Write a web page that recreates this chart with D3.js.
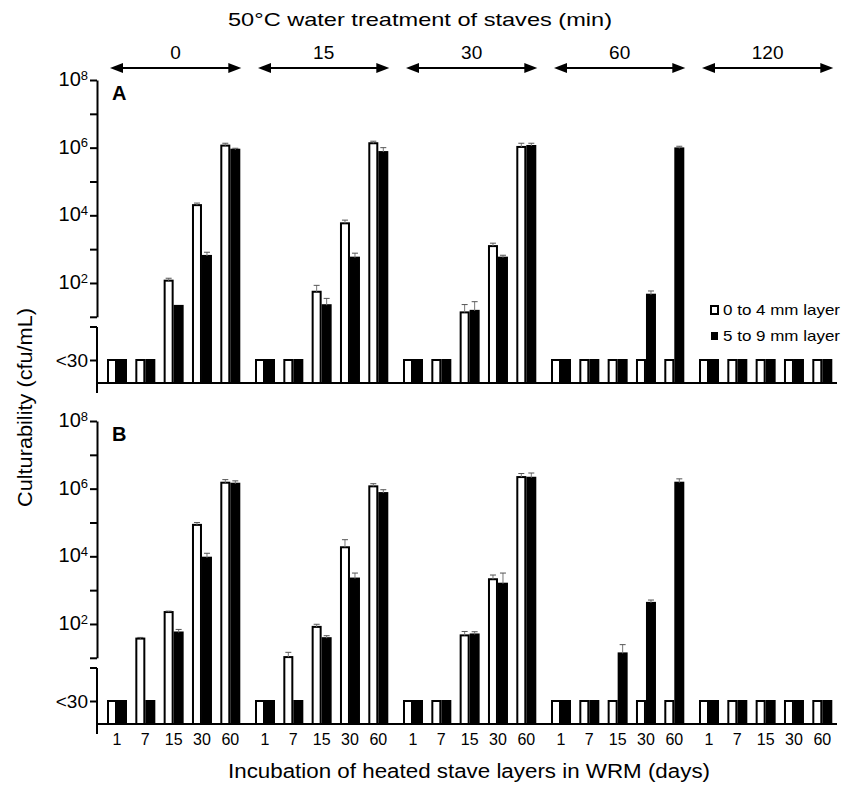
<!DOCTYPE html>
<html>
<head>
<meta charset="utf-8">
<script src="https://cdn.jsdelivr.net/npm/d3@7"></script>
<style>
  body { margin: 0; background: #fff; }
  text { font-family: "Liberation Sans", Arial, sans-serif; fill: #000; }
</style>
</head>
<body>
<div id="chart"></div>
<script>
// water treatment (min) and incubation (days)
const treatments = ["0", "15", "30", "60", "120"];
const days = ["1", "7", "15", "30", "60"];
const LT30 = 0; // below detection, drawn at the "<30" level

// panel A, 0 to 4 mm layer (white) / 5 to 9 mm layer (black), rows = treatment
const aOuter = [
  [LT30, LT30, 117, 2.0e4, 1.15e6],
  [LT30, LT30, 55, 5.8e3, 1.35e6],
  [LT30, LT30, 13.5, 1.23e3, 1.05e6],
  [LT30, LT30, LT30, LT30, LT30],
  [LT30, LT30, LT30, LT30, LT30]
];
const aOuterErr = [
  [0, 0, 138, 2.3e4, 1.35e6],
  [0, 0, 85, 7.2e3, 1.55e6],
  [0, 0, 23, 1.5e3, 1.35e6],
  [0, 0, 0, 0, 0],
  [0, 0, 0, 0, 0]
];
const aInner = [
  [LT30, LT30, 21, 630, 8.7e5],
  [LT30, LT30, 22, 560, 7.4e5],
  [LT30, LT30, 15, 560, 1.12e6],
  [LT30, LT30, LT30, 45, 9.5e5],
  [LT30, LT30, LT30, LT30, LT30]
];
const aInnerErr = [
  [0, 0, 0, 810, 9.6e5],
  [0, 0, 35, 760, 1.0e6],
  [0, 0, 28, 660, 1.35e6],
  [0, 0, 0, 58, 1.1e6],
  [0, 0, 0, 0, 0]
];

// panel B
const bOuter = [
  [LT30, 37, 225, 8.5e4, 1.5e6],
  [LT30, 10.5, 82, 1.85e4, 1.17e6],
  [LT30, LT30, 46, 2.1e3, 2.2e6],
  [LT30, LT30, LT30, LT30, LT30],
  [LT30, LT30, LT30, LT30, LT30]
];
const bOuterErr = [
  [0, 40, 240, 1.0e5, 1.85e6],
  [0, 14.5, 98, 3.1e4, 1.4e6],
  [0, 0, 60, 2.8e3, 2.8e6],
  [0, 0, 0, 0, 0],
  [0, 0, 0, 0, 0]
];
const bInner = [
  [LT30, LT30, 56, 9.1e3, 1.4e6],
  [LT30, LT30, 38, 2.2e3, 7.4e5],
  [LT30, LT30, 49, 1.55e3, 2.1e6],
  [LT30, LT30, 13.5, 420, 1.5e6],
  [LT30, LT30, LT30, LT30, LT30]
];
const bInnerErr = [
  [0, 0, 69, 1.23e4, 1.7e6],
  [0, 0, 45, 3.2e3, 9.3e5],
  [0, 0, 59, 3.2e3, 2.9e6],
  [0, 0, 24.5, 510, 1.95e6],
  [0, 0, 0, 0, 0]
];

const yTicks = [1e1, 1e2, 1e3, 1e4, 1e5, 1e6, 1e7, 1e8];
const legendLabels = ["0 to 4 mm layer", "5 to 9 mm layer"];

const width = 842, height = 787;
const axisX = 97;

let svg = d3.select("#chart")
  .append("svg")
  .attr("width", width)
  .attr("height", height);

let x0 = d3.scaleBand()
  .domain(treatments)
  .range([107, 832.3])
  .paddingInner(0.0993);
let x1 = d3.scaleBand()
  .domain(days)
  .range([0, x0.bandwidth()])
  .paddingInner(0.294);
let bw = x1.bandwidth() / 2;

// titles (text in the original is a bit wider than Liberation Sans)
svg.append("text")
  .attr("x", 228).attr("y", 26)
  .attr("font-size", "19px")
  .attr("textLength", 384).attr("lengthAdjust", "spacingAndGlyphs")
  .text("50°C water treatment of staves (min)");

svg.append("text")
  .attr("x", 228).attr("y", 778)
  .attr("font-size", "20px")
  .attr("textLength", 482).attr("lengthAdjust", "spacingAndGlyphs")
  .text("Incubation of heated stave layers in WRM (days)");

svg.append("text")
  .attr("transform", "translate(32,507) rotate(-90)")
  .attr("font-size", "20px")
  .attr("textLength", 199).attr("lengthAdjust", "spacingAndGlyphs")
  .text("Culturability (cfu/mL)");

// treatment arrows
let arrows = svg.append("g");
treatments.forEach(t => {
  let xa = x0(t) + 3, xb = x0(t) + x0.bandwidth() + 1, ya = 68;
  arrows.append("line")
    .attr("x1", xa + 6).attr("x2", xb - 6)
    .attr("y1", ya).attr("y2", ya)
    .attr("stroke", "#000").attr("stroke-width", 2);
  arrows.append("path")
    .attr("d", `M${xa},${ya}L${xa + 13},${ya - 5}L${xa + 13},${ya + 5}Z`);
  arrows.append("path")
    .attr("d", `M${xb},${ya}L${xb - 13},${ya - 5}L${xb - 13},${ya + 5}Z`);
  arrows.append("text")
    .attr("x", (xa + xb) / 2).attr("y", 59)
    .attr("text-anchor", "middle")
    .attr("font-size", "19px")
    .text(t);
});

const panels = [
  {key: "A", top: 80, outer: aOuter, outerErr: aOuterErr, inner: aInner, innerErr: aInnerErr, ticks: false},
  {key: "B", top: 421, outer: bOuter, outerErr: bOuterErr, inner: bInner, innerErr: bInnerErr, ticks: true}
];

panels.forEach(p => {
  let g = svg.append("g");
  let top = p.top;
  let yLog = d3.scaleLog().domain([1e1, 1e8]).range([top + 236.8, top]);
  let yLow = d3.scalePoint().domain(["<30"]).range([top + 257, top + 303]).padding(0.5);
  let base = top + 303;
  let yv = v => v === LT30 ? yLow("<30") : yLog(v);

  // upper (log) axis
  let ax = g.append("g")
    .attr("transform", `translate(${axisX},0)`)
    .call(d3.axisLeft(yLog).tickValues(yTicks).tickSize(7).tickSizeOuter(0).tickFormat(""));
  ax.select(".domain").attr("stroke-width", 2);
  ax.selectAll(".tick line").attr("stroke-width", 2);
  ax.selectAll(".tick").filter(d => Math.round(Math.log10(d)) % 2 === 0)
    .append("text")
    .attr("x", -9).attr("dy", "0.28em")
    .attr("text-anchor", "end")
    .attr("font-size", "20px")
    .attr("fill", "#000")
    .text("10")
    .append("tspan")
    .attr("dy", "-0.5em")
    .attr("font-size", "13px")
    .text(d => Math.round(Math.log10(d)));

  // lower axis with "<30"
  let ax2 = g.append("g")
    .attr("transform", `translate(${axisX},0)`)
    .call(d3.axisLeft(yLow).tickSize(7).tickSizeOuter(0));
  ax2.select(".domain").remove();
  ax2.selectAll(".tick line").attr("stroke-width", 2);
  ax2.selectAll(".tick text").attr("font-size", "19px").attr("x", -9)
    .attr("font-family", "Liberation Sans, Arial, sans-serif");
  g.append("line")
    .attr("x1", axisX).attr("x2", axisX)
    .attr("y1", top + 247).attr("y2", top + 313)
    .attr("stroke", "#000").attr("stroke-width", 2);
  g.append("line")
    .attr("x1", axisX - 7).attr("x2", axisX)
    .attr("y1", top + 247).attr("y2", top + 247)
    .attr("stroke", "#000").attr("stroke-width", 2);

  // bars
  treatments.forEach((t, i) => {
    days.forEach((d, j) => {
      let bx = x0(t) + x1(d);
      let vo = p.outer[i][j], vi = p.inner[i][j];
      g.append("rect")
        .attr("x", bx + 1).attr("y", yv(vo))
        .attr("width", bw - 2).attr("height", base - yv(vo))
        .attr("fill", "#fff").attr("stroke", "#000").attr("stroke-width", 2);
      g.append("rect")
        .attr("x", bx + bw).attr("y", yv(vi) - 1)
        .attr("width", bw).attr("height", base - yv(vi) + 1)
        .attr("fill", "#000");
      [[vo, p.outerErr[i][j], bx + bw / 2], [vi, p.innerErr[i][j], bx + bw * 1.5]].forEach(e => {
        if (!e[1]) return;
        let ya = yv(e[0]), yb = yLog(e[1]);
        g.append("line")
          .attr("x1", e[2]).attr("x2", e[2]).attr("y1", ya).attr("y2", yb)
          .attr("stroke", "#777").attr("stroke-width", 1);
        g.append("line")
          .attr("x1", e[2] - 3).attr("x2", e[2] + 3).attr("y1", yb).attr("y2", yb)
          .attr("stroke", "#555").attr("stroke-width", 1);
      });
      if (p.ticks) {
        g.append("text")
          .attr("x", bx + bw).attr("y", base + 21)
          .attr("text-anchor", "middle")
          .attr("font-size", "16px")
          .text(d);
      }
    });
  });

  // baseline
  g.append("line")
    .attr("x1", axisX).attr("x2", 837)
    .attr("y1", base).attr("y2", base)
    .attr("stroke", "#000").attr("stroke-width", 2);

  g.append("text")
    .attr("x", 112).attr("y", top + 20)
    .attr("font-size", "20px").attr("font-weight", "bold")
    .text(p.key);
});

// legend
let legend = svg.append("g");
legendLabels.forEach((l, i) => {
  let ly = 310 + i * 26;
  legend.append("rect")
    .attr("x", 711).attr("y", ly - 4)
    .attr("width", 7).attr("height", 8)
    .attr("fill", i === 0 ? "#fff" : "#000")
    .attr("stroke", "#000").attr("stroke-width", i === 0 ? 2 : 0);
  legend.append("text")
    .attr("x", 723).attr("y", ly + 5)
    .attr("font-size", "15px")
    .attr("textLength", 117).attr("lengthAdjust", "spacingAndGlyphs")
    .text(l);
});
</script>
</body>
</html>
